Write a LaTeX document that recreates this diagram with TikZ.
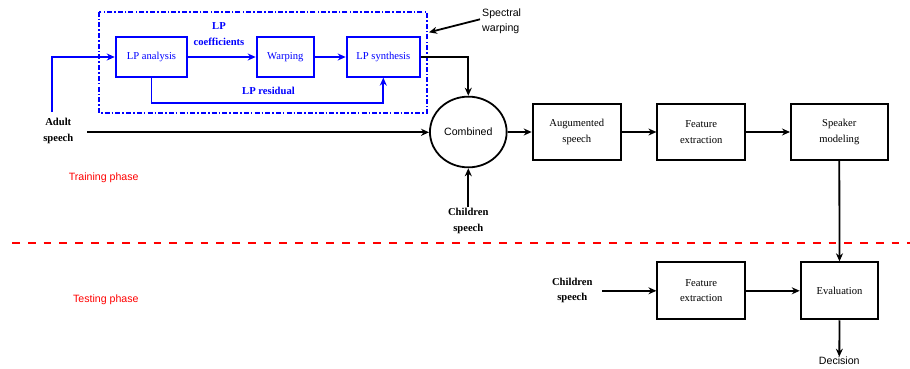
\documentclass[tikz,border=0pt]{standalone}
\usepackage{fontspec}
\setmainfont{Liberation Serif}
\newfontfamily\sansf{Liberation Sans}
\usetikzlibrary{arrows.meta,shapes.geometric}
\begin{document}
\begin{tikzpicture}[x=1pt,y=-1pt,
  blk/.style={draw,line width=1.9pt,rectangle,align=center,font=\fontsize{10.6}{15.4}\selectfont,inner sep=0pt},
  bblk/.style={blk,draw=blue,text=blue},
  arr/.style={line width=1.8pt,-{Stealth[length=8pt,width=7pt]}},
  barr/.style={arr,draw=blue},
  lbl/.style={font=\bfseries\fontsize{10.6}{15.8}\selectfont,align=center},
  sf/.style={font=\sansf\fontsize{10.6}{15.3}\selectfont,align=center}]
\useasboundingbox (0,0) rectangle (910,369);
% spectral warping group
\draw[blue,line width=1.8pt,dash pattern=on 5pt off 2pt on 1.5pt off 2.2pt] (99.3,11.7) rectangle (426.7,113.3);
\node[bblk,minimum width=71.6pt,minimum height=39.4pt] (lpa) at (151.5,57) {LP analysis};
\node[bblk,minimum width=57.3pt,minimum height=39.4pt] (warp) at (285.3,57) {Warping};
\node[bblk,minimum width=73.3pt,minimum height=39.4pt] (lps) at (383.3,57) {LP synthesis};
\node[lbl,text=blue] (lpc) at (219,34) {LP\\coefficients};
\node[lbl,text=blue] (lpr) at (268.5,91) {LP residual};
\node[sf,align=left,anchor=west,inner sep=0pt] (spw) at (482,21.5) {Spectral\\warping};
\coordinate (spwend) at (429,32.3);
\coordinate (spws) at (480,19.3);
\draw[arr] (spws) -- (spwend);
% inputs
\node[lbl] (adult) at (58.3,131) {Adult\\speech};
\coordinate (a0) at (51.7,112);
\coordinate (a1) at (87.3,132.3);
\draw[barr] (a0) |- (lpa.west);
\draw[barr] (lpa) -- (warp);
\draw[barr] (warp) -- (lps);
\draw[barr] (lpa.south) |- (268,103.3) -| (lps.south);
% combined
\node[draw,ellipse,line width=1.8pt,minimum width=76.7pt,minimum height=70.7pt,inner sep=0pt,sf] (comb) at (468.3,132) {Combined};
\draw[arr] (lps.east) -| (comb.north);
\draw[arr] (a1) -- (a1 -| comb.west);
\node[lbl] (child1) at (468.3,221.3) {Children\\speech};
\coordinate (c1) at (468.3,207.3);
\draw[arr] (c1) -- (comb.south);
\node[sf,text=red] (train) at (103.7,177.3) {Training phase};
% training chain
\node[blk,minimum width=88.3pt,minimum height=56pt] (aug) at (576.8,132) {Augumented\\speech};
\node[blk,minimum width=87.7pt,minimum height=56pt] (fe1) at (701.2,132) {Feature\\extraction};
\node[blk,minimum width=96.7pt,minimum height=56pt] (spk) at (839.3,132) {Speaker\\modeling};
\draw[arr] (comb.east) -- (aug.west);
\draw[arr] (aug) -- (fe1);
\draw[arr] (fe1) -- (spk);
% divider
\draw[red,line width=2.4pt,dash pattern=on 7.7pt off 8pt] (12.3,242.7) -- (910,242.7);
% testing
\node[sf,text=red] (test) at (105.8,300) {Testing phase};
\node[blk,minimum width=87.7pt,minimum height=57pt] (fe2) at (701.2,290.8) {Feature\\extraction};
\node[blk,minimum width=77.6pt,minimum height=57pt] (eval) at (839.5,290.8) {Evaluation};
\node[lbl] (child2) at (572.3,290.5) {Children\\speech};
\coordinate (c2) at (602.3,290.8);
\draw[arr] (c2) -- (fe2.west);
\draw[arr] (fe2) -- (eval);
\draw[arr] (spk.south) -- (eval.north);
\node[sf,anchor=north,inner sep=0pt] (dec) at (839.3,356.7) {Decision};
\draw[arr] (eval.south) -- (dec.north);
\end{tikzpicture}
\end{document}
